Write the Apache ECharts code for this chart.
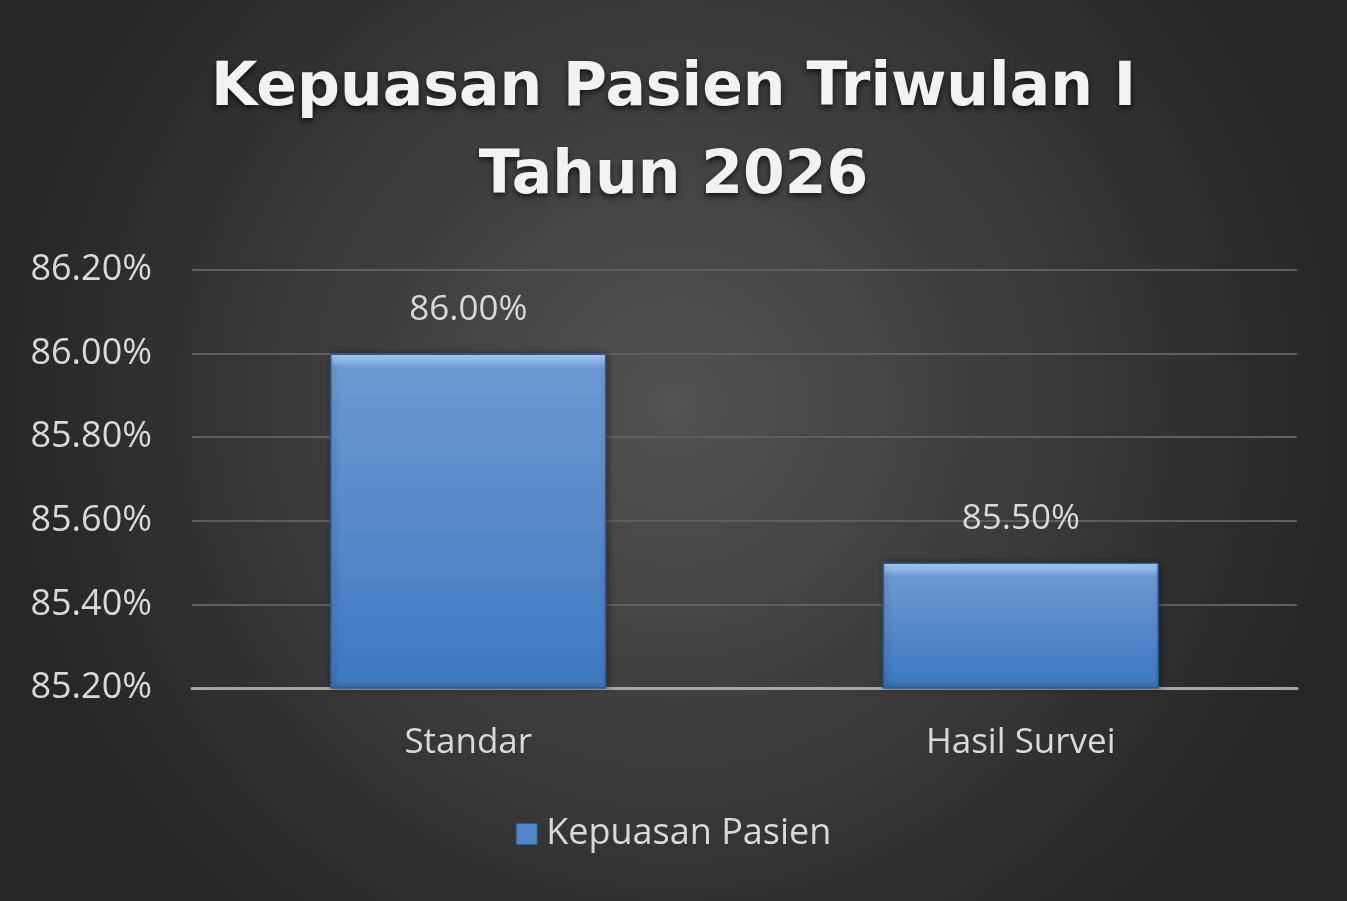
<!DOCTYPE html>
<html>
<head>
<meta charset="utf-8">
<script src="https://cdn.jsdelivr.net/npm/echarts@6/dist/echarts.min.js"></script>
<style>
  html, body { margin: 0; padding: 0; }
  #chart { width: 1347px; height: 901px; }
</style>
</head>
<body>
<div id="chart"></div>
<script>
// data
const categories = ['Standar', 'Hasil Survei'];
const values = [86.00, 85.50];
const seriesName = 'Kepuasan Pasien';
const titleText = 'Kepuasan Pasien Triwulan I\nTahun 2026';
const yMin = 85.2, yMax = 86.2, yStep = 0.2;

const chart = echarts.init(document.getElementById('chart'));

const txt = '#d9d9d9';
const font = "'Open Sans', 'Noto Sans', sans-serif";
const plotH = 418;

// bar fill: thin light bevel at the top, then blue gradient
function barFill(p) {
  const h = (p.value - yMin) / (yMax - yMin) * plotH;
  const e = Math.min(0.2, 14 / h);
  return {
    type: 'linear', x: 0, y: 0, x2: 0, y2: 1,
    colorStops: [
      { offset: 0, color: '#b4d6f8' },
      { offset: e * 0.5, color: '#8fb8ea' },
      { offset: e, color: '#6d98d3' },
      { offset: 1 - e * 0.6, color: '#3f79c0' },
      { offset: 1, color: '#3a6eaf' }
    ]
  };
}

chart.setOption({
  backgroundColor: {
    type: 'radial', x: 0.5, y: 0.45, r: 0.75,
    colorStops: [
      { offset: 0, color: '#525252' },
      { offset: 1, color: '#262626' }
    ]
  },
  title: {
    text: titleText,
    left: 'center',
    top: 40,
    textStyle: {
      color: '#f2f2f2',
      fontFamily: "'DejaVu Sans', sans-serif",
      fontWeight: 'bold',
      fontSize: 60,
      lineHeight: 88,
      textShadowColor: 'rgba(0,0,0,0.7)',
      textShadowBlur: 6,
      textShadowOffsetY: 3
    }
  },
  legend: {
    data: [{ name: seriesName, icon: 'rect' }],
    bottom: 44,
    left: 'center',
    itemWidth: 21,
    itemHeight: 21,
    itemGap: 10,
    itemStyle: { color: '#4f86c9', borderColor: '#2e5a90', borderWidth: 1 },
    textStyle: { color: txt, fontSize: 36, fontFamily: font, padding: [0, 0, 0, 4] }
  },
  grid: { left: 192, right: 50, top: 270, bottom: 213 },
  xAxis: {
    type: 'category',
    data: categories,
    axisLine: { lineStyle: { color: '#a6a6a6', width: 3 } },
    axisTick: { show: false },
    axisLabel: { color: txt, fontSize: 35, fontFamily: font, margin: 38 }
  },
  yAxis: {
    type: 'value',
    min: yMin,
    max: yMax,
    interval: yStep,
    axisLine: { show: false },
    axisTick: { show: false },
    splitLine: { lineStyle: { color: '#5e5e5e', width: 2 } },
    axisLabel: {
      color: txt, fontSize: 36, fontFamily: font, margin: 40,
      formatter: v => v.toFixed(2) + '%'
    }
  },
  series: [{
    name: seriesName,
    type: 'bar',
    data: values,
    barWidth: '50%',
    itemStyle: {
      color: barFill,
      borderColor: '#2e5a90',
      borderWidth: 1.5,
      shadowColor: 'rgba(0,0,0,0.35)',
      shadowBlur: 6,
      shadowOffsetX: 2
    },
    label: {
      show: true,
      position: 'top',
      distance: 26,
      color: txt,
      fontSize: 35,
      fontFamily: font,
      formatter: p => p.value.toFixed(2) + '%'
    }
  }]
});
</script>
</body>
</html>
